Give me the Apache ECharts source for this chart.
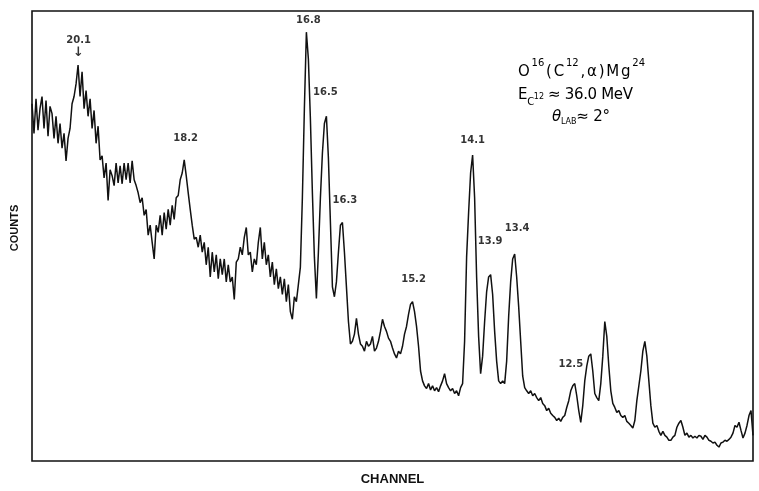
<!DOCTYPE html>
<html>
<head>
<meta charset="utf-8">
<script src="https://cdn.jsdelivr.net/npm/echarts@6/dist/echarts.min.js"></script>
<style>
  html, body { margin: 0; padding: 0; background: #fff; }
  #chart { width: 759px; height: 491px; }
</style>
</head>
<body>
<div id="chart"></div>
<script>
// O16(C12,alpha)Mg24 alpha-particle spectrum: counts per channel
const counts = [
  794,728,805,735,783,810,739,801,722,788,
  772,717,766,706,750,695,728,667,717,739,
  794,810,838,880,810,865,783,823,766,805,
  739,779,706,744,669,678,629,662,579,647,
  634,612,662,618,656,616,662,625,662,618,
  667,625,612,596,574,585,546,559,502,524,
  486,449,524,508,546,502,552,515,559,524,
  568,537,585,590,625,640,669,634,596,559,
  524,493,497,475,502,464,486,436,475,409,
  464,420,458,405,449,414,449,398,436,398,
  409,359,442,449,475,458,497,519,458,464,
  420,449,436,486,519,449,486,436,458,409,
  442,392,427,383,409,370,405,354,392,332,
  315,365,354,392,431,585,783,953,893,761,
  596,453,361,464,585,684,750,766,673,530,
  387,365,398,464,524,530,464,387,310,260,
  266,282,317,282,260,255,244,266,255,260,
  277,244,251,266,288,315,299,288,273,266,
  251,238,229,244,238,255,282,299,326,348,
  354,332,299,255,200,178,167,161,172,158,
  167,156,163,154,167,178,194,172,163,156,
  161,150,156,145,163,172,266,453,552,640,
  680,585,409,277,194,233,310,376,409,414,
  370,288,222,178,172,178,172,222,321,398,
  449,460,409,343,266,189,163,156,150,156,
  145,150,141,134,141,128,123,112,117,106,
  101,97,90,95,88,97,101,119,134,156,
  167,172,145,112,86,123,178,211,233,238,
  200,150,141,134,172,233,310,277,211,156,
  128,119,108,112,101,97,101,88,84,79,
  73,90,134,167,200,244,266,233,178,123,
  84,75,79,66,57,66,57,53,46,46,
  53,57,75,84,90,75,57,62,53,57,
  51,55,51,57,55,48,57,53,46,44,
  40,42,35,31,40,42,46,44,48,53,
  62,79,75,86,68,51,62,79,101,112,
  57
];

// Excitation energies (MeV) of the Mg24 states and the channel of each peak
const peakEnergies = ['20.1', '18.2', '16.8', '16.5', '16.3', '15.2', '14.1', '13.9', '13.4', '12.5'];
const peakChannels = [23, 76, 137, 147, 155, 190, 220, 229, 241, 279];

// Pixel offsets of each energy label from its peak
const labelOffsets = [
  [0.5, -18], [1.5, -22], [2, -11.5], [-1, -24], [2.5, -22.5],
  [1, -22.5], [0, -14.5], [-0.5, -33], [2.5, -25.5], [-20, 10.5]
];

const spectrum = counts.map((c, i) => [i, c]);
const peakData = peakChannels.map((ch, k) => ({
  value: [ch, counts[ch]],
  label: {
    offset: labelOffsets[k],
    // the first state is marked with an arrow under its energy
    formatter: k === 0 ? '{e|' + peakEnergies[k] + '}\n{a|\u2193}' : '{e|' + peakEnergies[k] + '}'
  }
}));

const ink = '#000';
const letterFont = 'DejaVu Sans';

// Hand-lettered annotation: characters are placed one by one so the line
// can be spread to a given width; super/subscripts stay as one tight unit.
const measureCtx = document.createElement('canvas').getContext('2d');
function letteredLine(pieces, left, width) {
  const units = [];
  pieces.forEach(p => {
    const parts = p.tight ? [p.text] : Array.from(p.text);
    parts.forEach(t => units.push({ t, size: p.size, cy: p.cy, italic: !!p.italic }));
  });
  units.forEach(u => {
    measureCtx.font = (u.italic ? 'italic ' : '') + u.size + 'px "' + letterFont + '"';
    u.w = measureCtx.measureText(u.t).width;
  });
  const natural = units.reduce((s, u) => s + u.w, 0);
  const gap = (width - natural) / (units.length - 1);
  const els = [];
  let x = left;
  units.forEach(u => {
    els.push({
      type: 'text', x: x, y: u.cy, silent: true,
      style: {
        text: u.t, fontFamily: letterFont, fontSize: u.size,
        fontStyle: u.italic ? 'italic' : 'normal',
        fill: ink, align: 'left', verticalAlign: 'middle'
      }
    });
    x += u.w + gap;
  });
  return els;
}

const reactionLine = letteredLine([
  { text: 'O', size: 15, cy: 72.5 },
  { text: '16', size: 10, cy: 63.5, tight: true },
  { text: '(C', size: 15, cy: 72.5 },
  { text: '12', size: 10, cy: 63.5, tight: true },
  { text: ',\u03b1)Mg', size: 15, cy: 72.5 },
  { text: '24', size: 10, cy: 63.5, tight: true }
], 518, 127);

const energyLine = letteredLine([
  { text: 'E', size: 15, cy: 95 },
  { text: 'C', size: 10, cy: 102.5 },
  { text: '12', size: 8, cy: 96.5, tight: true },
  { text: ' \u2248 36.0 MeV', size: 15, cy: 95 }
], 518, 115);

const angleLine = letteredLine([
  { text: '\u03b8', size: 15, cy: 117, italic: true },
  { text: 'LAB', size: 8, cy: 122, tight: true },
  { text: '\u2248 2\u00b0', size: 15, cy: 117 }
], 552, 58);

const chart = echarts.init(document.getElementById('chart'), null, { renderer: 'canvas' });
chart.setOption({
  animation: false,
  backgroundColor: '#fff',
  grid: {
    left: 32, right: 6, top: 11, bottom: 25,
    show: true, borderColor: '#111', borderWidth: 1.6, backgroundColor: 'transparent'
  },
  xAxis: {
    type: 'value', min: 0, max: 360,
    name: 'CHANNEL', nameLocation: 'middle', nameGap: 12,
    nameTextStyle: { fontFamily: 'Liberation Sans', fontWeight: 'bold', fontSize: 13, color: '#111' },
    axisLine: { show: false }, axisTick: { show: false },
    axisLabel: { show: false }, splitLine: { show: false }
  },
  yAxis: {
    type: 'value', min: 0, max: 1000,
    axisLine: { show: false }, axisTick: { show: false },
    axisLabel: { show: false }, splitLine: { show: false }
  },
  series: [
    {
      name: 'Counts',
      type: 'line',
      data: spectrum,
      showSymbol: false,
      lineStyle: { color: '#111', width: 1.5 },
      z: 3
    },
    {
      name: 'Peaks',
      type: 'scatter',
      data: peakData,
      symbolSize: 0,
      silent: true,
      label: {
        show: true,
        position: 'inside',
        align: 'center',
        verticalAlign: 'middle',
        color: ink,
        rich: {
          e: { fontFamily: letterFont, fontWeight: 'bold', fontSize: 10, lineHeight: 12, color: ink },
          a: { fontFamily: letterFont, fontWeight: 'bold', fontSize: 13, lineHeight: 13, color: ink }
        }
      },
      z: 4
    }
  ],
  graphic: [
    {
      type: 'text',
      x: 15, y: 228,
      rotation: Math.PI / 2,
      style: {
        text: 'COUNTS',
        fontFamily: 'Liberation Sans', fontWeight: 'bold', fontSize: 11,
        fill: '#111', align: 'center', verticalAlign: 'middle'
      }
    }
  ].concat(reactionLine, energyLine, angleLine)
});
</script>
</body>
</html>
